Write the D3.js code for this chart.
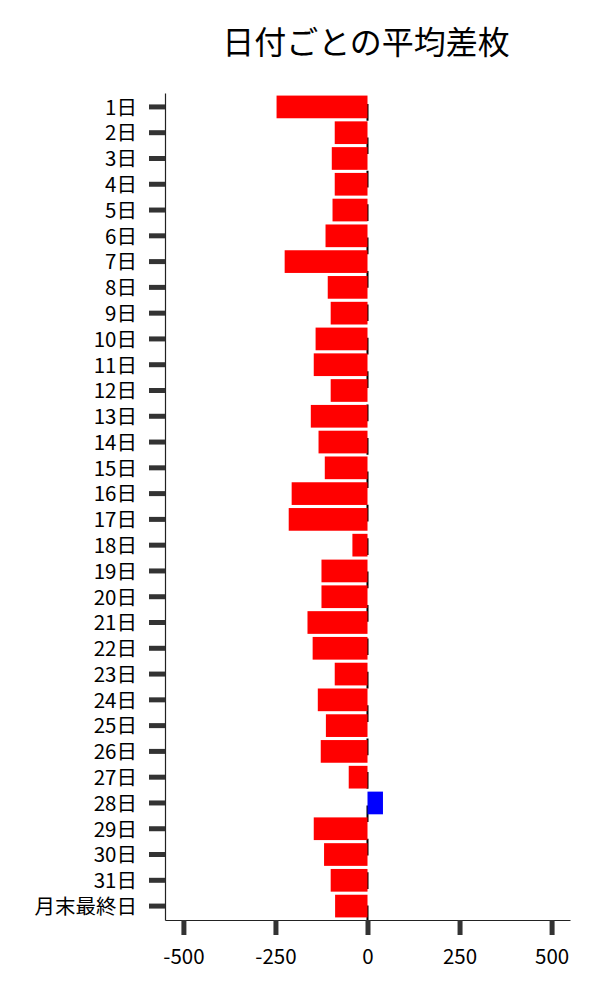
<!DOCTYPE html>
<html>
<head>
<meta charset="utf-8">
<script src="https://cdn.jsdelivr.net/npm/d3@7"></script>
<style>
  html, body { margin: 0; padding: 0; background: #fff; }
  svg { display: block; }
  text { font-family: "Noto Sans CJK JP", "Noto Sans", sans-serif; }
</style>
</head>
<body>
<svg id="chart" width="600" height="1000"></svg>
<script>
const title = "日付ごとの平均差枚";
const categories = ["1日","2日","3日","4日","5日","6日","7日","8日","9日","10日",
  "11日","12日","13日","14日","15日","16日","17日","18日","19日","20日",
  "21日","22日","23日","24日","25日","26日","27日","28日","29日","30日","31日","月末最終日"];
const values = [-247, -89, -97, -89, -95, -114, -225, -108, -100, -141,
  -146, -100, -154, -133, -116, -206, -214, -41, -125, -125,
  -163, -149, -89, -135, -113, -127, -51, 42, -146, -118, -100, -88];
const xTicks = [-500, -250, 0, 250, 500];
const xDomain = [-550, 550];

const svg = d3.select("#chart");
const margin = { left: 165, right: 30, top: 93, bottom: 80 };
const W = 600, H = 1000;

const x = d3.scaleLinear().domain(xDomain).range([margin.left, W - margin.right]);
const y = d3.scaleBand().domain(categories).range([margin.top, H - margin.bottom])
  .paddingInner(0.12).paddingOuter(0.1);

// title
svg.append("text")
  .attr("x", 366)
  .attr("y", 54)
  .attr("text-anchor", "middle")
  .attr("font-size", 32)
  .attr("fill", "#000")
  .text(title);

// zero dashed line (behind bars)
svg.append("line")
  .attr("x1", x(0)).attr("x2", x(0))
  .attr("y1", margin.top).attr("y2", H - margin.bottom)
  .attr("stroke", "#000")
  .attr("stroke-width", 2)
  .attr("stroke-dasharray", "16.7 16.7")
  .attr("stroke-dashoffset", 22.4);

// bars
svg.append("g").selectAll("rect")
  .data(categories.map((c, i) => ({ c, v: values[i] })))
  .join("rect")
  .attr("x", d => Math.min(x(0), x(d.v)))
  .attr("width", d => Math.abs(x(d.v) - x(0)))
  .attr("y", d => y(d.c))
  .attr("height", y.bandwidth())
  .attr("fill", d => d.v < 0 ? "#ff0000" : "#0000ff");

// y axis
const gy = svg.append("g")
  .attr("transform", `translate(${margin.left},0)`)
  .call(d3.axisLeft(y).tickSize(16).tickSizeOuter(0).tickPadding(12));
gy.select(".domain").attr("stroke", "#222").attr("stroke-width", 1.2);
gy.selectAll(".tick line").attr("stroke", "#333").attr("stroke-width", 5);
gy.selectAll(".tick text").attr("font-size", 20.5).attr("fill", "#000")
  .attr("dy", "0.38em")
  .style("font-family", '"Noto Sans CJK JP", sans-serif');

// x axis
const gx = svg.append("g")
  .attr("transform", `translate(0,${H - margin.bottom})`)
  .call(d3.axisBottom(x).tickValues(xTicks).tickFormat(d => String(d))
    .tickSize(15).tickSizeOuter(0).tickPadding(14));
gx.select(".domain").attr("stroke", "#222").attr("stroke-width", 1.2);
gx.selectAll(".tick line").attr("stroke", "#333").attr("stroke-width", 5);
gx.selectAll(".tick text").attr("font-size", 20.5).attr("fill", "#000")
  .style("font-family", '"Noto Sans CJK JP", sans-serif');
</script>
</body>
</html>
